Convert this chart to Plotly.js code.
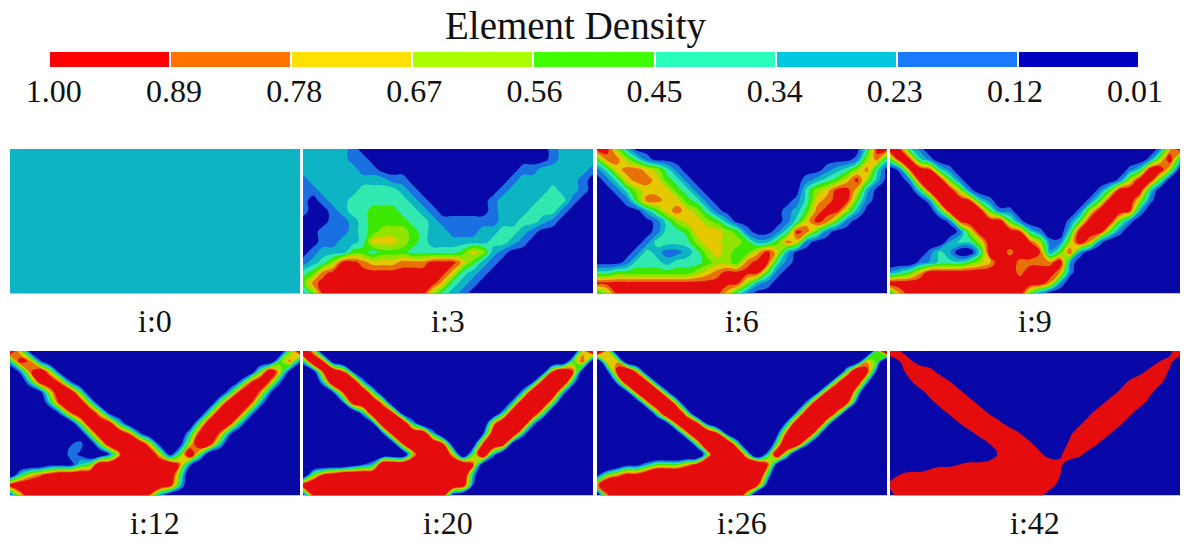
<!DOCTYPE html>
<html><head><meta charset="utf-8">
<script src="https://cdn.plot.ly/plotly-3.0.1.min.js"></script>
<style>html,body{margin:0;padding:0;background:#fff}</style></head>
<body><div id="chart" style="width:1186px;height:544px"></div>
<script>
// Sampled element density on a coarse mesh, on a 0..8 band scale (0 = lowest density, 8 = highest).
const barLabels=["1.00","0.89","0.78","0.67","0.56","0.45","0.34","0.23","0.12","0.01"];
const barBands=[[8,7,6,5,4,3,2,1,0]];
const panelNames=["i:0","i:3","i:6","i:9","i:12","i:20","i:26","i:42"];
const i0=[[2,2],[2,2]];
const i3=[
[2,2,2,2,2,1,0,0,0,0,0,0,0,0,0,0,0,0,0,0,0,0,0,0,0,1,2,2,2,2],
[2,2,2,2,2,1,1,0,0,0,0,0,0,0,0,0,0,0,0,0,0,0,0,0,0,1,2,2,2,2],
[2,2,2,2,2,2,1,1,0,0,0,0,0,0,0,0,0,0,0,0,0,0,1,1,2,2,2,2,2,1],
[1,2,2,2,2,2,2,2,2,1,1,0,0,0,0,0,0,0,0,0,0,1,2,2,2,2,2,2,1,0],
[1,1,2,2,2,2,3,3,3,3,2,1,0,0,0,0,0,0,0,0,1,2,2,2,2,3,2,2,1,0],
[1,0,1,2,2,3,3,3,3,3,3,2,1,0,0,0,0,0,0,1,2,2,2,2,3,3,3,1,0,0],
[1,0,0,1,2,3,3,4,4,4,3,3,2,1,0,0,0,0,0,1,2,2,2,3,3,3,1,0,0,0],
[0,0,0,1,1,2,3,4,4,4,4,3,3,2,1,1,1,1,1,1,2,2,3,3,2,1,0,0,0,0],
[0,0,1,1,1,2,3,4,5,5,5,4,3,2,2,1,1,1,2,2,3,3,2,1,0,0,0,0,0,0],
[0,0,1,1,2,2,3,6,6,6,5,4,3,2,2,2,2,2,2,3,3,2,1,0,0,0,0,0,0,0],
[0,1,2,2,2,4,4,3,4,4,4,3,3,3,3,3,4,6,5,2,1,0,0,0,0,0,0,0,0,0],
[1,2,3,5,8,8,7,6,6,6,7,7,7,8,8,8,6,4,2,1,0,0,0,0,0,0,0,0,0,0],
[3,4,7,8,8,8,8,8,8,8,8,8,8,8,8,6,3,2,1,0,0,0,0,0,0,0,0,0,0,0],
[4,7,8,8,8,8,8,8,8,8,8,8,8,8,6,3,2,1,0,0,0,0,0,0,0,0,0,0,0,0],
[2,4,8,8,8,8,8,8,8,8,8,8,8,5,3,2,1,0,0,0,0,0,0,0,0,0,0,0,0,0]];
const i6=[
[8,8,5,2,0,0,0,0,0,0,0,0,0,0,0,0,0,0,0,0,0,0,0,0,0,0,0,3,8,8],
[4,7,7,5,3,1,0,0,0,0,0,0,0,0,0,0,0,0,0,0,0,0,0,0,0,0,1,5,7,3],
[1,3,6,7,7,6,5,3,1,0,0,0,0,0,0,0,0,0,0,0,0,0,0,1,2,3,5,7,3,0],
[0,1,3,6,7,7,6,4,3,1,0,0,0,0,0,0,0,0,0,0,0,1,2,3,4,6,8,5,2,0],
[0,0,1,3,5,6,6,6,4,3,1,0,0,0,0,0,0,0,0,0,0,3,5,6,8,8,6,2,0,0],
[0,0,0,1,4,7,7,6,6,4,3,1,0,0,0,0,0,0,0,0,1,3,6,7,8,8,4,1,0,0],
[0,0,0,0,0,2,4,6,7,6,5,3,1,0,0,0,0,0,0,1,2,4,7,8,8,5,2,0,0,0],
[0,0,0,0,0,0,1,3,5,6,6,5,4,2,0,0,0,0,0,1,3,6,8,7,4,1,0,0,0,0],
[0,0,0,0,0,0,1,3,3,4,6,6,6,5,4,1,0,0,1,3,8,7,4,1,0,0,0,0,0,0],
[0,0,0,0,0,1,3,3,3,3,5,6,6,5,5,4,2,2,4,7,6,1,0,0,0,0,0,0,0,0],
[0,0,0,0,1,3,2,1,1,2,3,5,6,5,4,4,6,8,6,2,0,0,0,0,0,0,0,0,0,0],
[0,0,0,1,3,3,3,2,3,3,3,4,5,5,4,7,8,8,3,1,0,0,0,0,0,0,0,0,0,0],
[3,3,4,4,4,4,4,4,4,4,5,6,7,8,8,8,8,4,1,0,0,0,0,0,0,0,0,0,0,0],
[8,8,8,8,8,8,8,8,8,8,8,8,8,8,8,5,2,1,0,0,0,0,0,0,0,0,0,0,0,0],
[3,5,8,8,8,8,8,8,8,8,8,8,8,6,3,1,0,0,0,0,0,0,0,0,0,0,0,0,0,0]];
const i9=[
[8,7,3,1.5,0,0,0,0,0,0,0,0,0,0,0,0,0,0,0,0,0,0,0,0,0,0,0,1.5,6,8],
[4,8,7,3,1.5,0,0,0,0,0,0,0,0,0,0,0,0,0,0,0,0,0,0,0,0,0,1.5,5,8,3],
[0,1.5,7,8,7,3,1.5,0,0,0,0,0,0,0,0,0,0,0,0,0,0,0,0,0,1.5,3,8,8,5,0],
[0,0,2,8,8,8,4,1.5,0,0,0,0,0,0,0,0,0,0,0,0,0,0,0,1.5,5,8,8,4,0,0],
[0,0,0,3,8,8,8,5,1.5,0,0,0,0,0,0,0,0,0,0,0,0,1.5,4,8,8,8,3,0,0,0],
[0,0,0,0,2,8,8,8,7,3,1.5,0,0,0,0,0,0,0,0,0,1.5,4,8,8,8,5,1.5,0,0,0],
[0,0,0,0,0,3,8,8,8,8,4,1.5,1.5,0,0,0,0,0,0,1.5,5,8,8,8,7,2,0,0,0,0],
[0,0,0,0,0,0,1.5,7,8,8,8,8,4,1.5,0,0,0,0,1.5,4,8,8,8,4,1.5,0,0,0,0,0],
[0,0,0,0,0,0,0,1.5,5,8,8,8,8,7,3,1.5,0,0,3,8,8,8,4,1.5,0,0,0,0,0,0],
[0,0,0,0,0,0,2,3,3,5,8,8,8,8,7,5,1.5,1.5,5,8,6,1.5,0,0,0,0,0,0,0,0],
[0,0,0,0,1.5,3,2,0,0,3,8,8,6.5,8,8,7,2,4,7,2,0,0,0,0,0,0,0,0,0,0],
[0,0,0,1.5,2,3,3,3,4,5,6,8,8,6.5,6.5,6.5,6.5,8,2,0,0,0,0,0,0,0,0,0,0,0],
[2,3,4,6,8,8,8,8,8,8,8,8,8,6.5,8,8,8,6,1.5,0,0,0,0,0,0,0,0,0,0,0],
[8,8,8,8,8,8,8,8,8,8,8,8,8,8,8,8,6,2,0,0,0,0,0,0,0,0,0,0,0,0],
[3,6,8,8,8,8,8,8,8,8,8,8,8,8,4,1.5,0,0,0,0,0,0,0,0,0,0,0,0,0,0]];
const i12=[
[8,5,1,0,0,0,0,0,0,0,0,0,0,0,0,0,0,0,0,0,0,0,0,0,0,0,0,0,4,8],
[3,7,6,2,0,0,0,0,0,0,0,0,0,0,0,0,0,0,0,0,0,0,0,0,0,0,0,4,6,2],
[0,2,6,8,5,1,0,0,0,0,0,0,0,0,0,0,0,0,0,0,0,0,0,0,0,4,8,5,1,0],
[0,0,3,7,8,6,2,0,0,0,0,0,0,0,0,0,0,0,0,0,0,0,0,2,6,8,6,2,0,0],
[0,0,0,1,5,8,8,4,0,0,0,0,0,0,0,0,0,0,0,0,0,0,3,7,8,6,2,0,0,0],
[0,0,0,0,3,7,8,8,4,0,0,0,0,0,0,0,0,0,0,0,0,4,8,8,7,3,0,0,0,0],
[0,0,0,0,0,2,6,8,8,5,1,0,0,0,0,0,0,0,0,0,4,8,8,7,3,0,0,0,0,0],
[0,0,0,0,0,0,0,4,8,8,7,3,0,0,0,0,0,0,0,4,8,8,7,3,0,0,0,0,0,0],
[0,0,0,0,0,0,0,0,4,8,8,8,6,2,0,0,0,0,3,7,8,6,2,0,0,0,0,0,0,0],
[0,0,0,0,0,0,1.5,2.3,0,4,8,8,8,8,5,1,0,1,5,8,7,3,0,0,0,0,0,0,0,0],
[0,0,0,0,0,0,2.3,1.5,0,0,2,6,8,8,8,5,1,4,8,4,0,0,0,0,0,0,0,0,0,0],
[0,0,0,0,1,1,1,3,4,8,8,8,8,8,8,8,8,6,2,0,0,0,0,0,0,0,0,0,0,0],
[0,3,5,6,7,8,8,8,8,8,8,8,8,8,8,8,8,4,0,0,0,0,0,0,0,0,0,0,0,0],
[7,8,8,8,8,8,8,8,8,8,8,8,8,8,8,8,7,3,0,0,0,0,0,0,0,0,0,0,0,0],
[1,5,8,8,8,8,8,8,8,8,8,8,8,8,6,2,0,0,0,0,0,0,0,0,0,0,0,0,0,0]];
const i20=[
[8,5,0,0,0,0,0,0,0,0,0,0,0,0,0,0,0,0,0,0,0,0,0,0,0,0,0,0,5,8],
[3,8,6,1,0,0,0,0,0,0,0,0,0,0,0,0,0,0,0,0,0,0,0,0,0,0,0,4,6,1],
[0,1,6,8,6,2,0,0,0,0,0,0,0,0,0,0,0,0,0,0,0,0,0,0,1,6,8,6,1,0],
[0,0,3,8,8,8,3,0,0,0,0,0,0,0,0,0,0,0,0,0,0,0,0,2,7,8,8,3,0,0],
[0,0,0,2,6,8,8,4,0,0,0,0,0,0,0,0,0,0,0,0,0,0,3,8,8,8,3,0,0,0],
[0,0,0,0,2,7,8,8,5,0,0,0,0,0,0,0,0,0,0,0,0,3,8,8,8,4,0,0,0,0],
[0,0,0,0,0,0,3,8,8,6,1,0,0,0,0,0,0,0,0,0,3,8,8,8,4,0,0,0,0,0],
[0,0,0,0,0,0,0,2,8,8,8,3,0,0,0,0,0,0,0,5,8,8,8,3,0,0,0,0,0,0],
[0,0,0,0,0,0,0,0,2,7,8,8,8,3,0,0,0,0,2,7,8,8,3,0,0,0,0,0,0,0],
[0,0,0,0,0,0,0,0,0,1,6,8,8,8,6,1,0,1,6,8,7,1,0,0,0,0,0,0,0,0],
[0,0,0,0,0,0,0,0,0,0,0,5,8,8,8,5,0,4,8,3,0,0,0,0,0,0,0,0,0,0],
[0,0,0,0,0,1,2,3,8,8,8,8,8,8,8,8,8,6,1,0,0,0,0,0,0,0,0,0,0,0],
[0,4,6,7,8,8,8,8,8,8,8,8,8,8,8,8,8,3,0,0,0,0,0,0,0,0,0,0,0,0],
[7,8,8,8,8,8,8,8,8,8,8,8,8,8,8,8,7,2,0,0,0,0,0,0,0,0,0,0,0,0],
[1,6,8,8,8,8,8,8,8,8,8,8,8,8,7,1,0,0,0,0,0,0,0,0,0,0,0,0,0,0]];
const i26=[
[8,5,1,0,0,0,0,0,0,0,0,0,0,0,0,0,0,0,0,0,0,0,0,0,0,0,0,0,4,8],
[1,5,5,1,0,0,0,0,0,0,0,0,0,0,0,0,0,0,0,0,0,0,0,0,0,0,1,5,4,0],
[0,2,6,8,5,1,0,0,0,0,0,0,0,0,0,0,0,0,0,0,0,0,0,0,0,4,8,6,2,0],
[0,0,3,7,8,6,2,0,0,0,0,0,0,0,0,0,0,0,0,0,0,0,0,1,5,8,7,3,0,0],
[0,0,0,2,6,8,7,3,0,0,0,0,0,0,0,0,0,0,0,0,0,0,2,6,8,8,4,0,0,0],
[0,0,0,0,1,5,8,8,4,0,0,0,0,0,0,0,0,0,0,0,0,3,7,8,8,6,2,0,0,0],
[0,0,0,0,0,0,4,8,8,4,0,0,0,0,0,0,0,0,0,0,3,7,8,8,5,1,0,0,0,0],
[0,0,0,0,0,0,0,2,6,8,6,2,0,0,0,0,0,0,0,3,7,8,8,4,0,0,0,0,0,0],
[0,0,0,0,0,0,0,0,1,5,8,8,6,2,0,0,0,0,2,6,8,8,4,0,0,0,0,0,0,0],
[0,0,0,0,0,0,0,0,0,0,4,8,8,8,4,0,0,0,4,8,7,3,0,0,0,0,0,0,0,0],
[0,0,0,0,0,0,0,0,0,0,0,4,8,8,8,4,0,3,7,4,0,0,0,0,0,0,0,0,0,0],
[0,0,1,2,2,3,4,4,4,5,6,8,8,8,8,8,8,6,2,0,0,0,0,0,0,0,0,0,0,0],
[2,4,5,6,6,7,8,8,8,8,8,8,8,8,8,8,8,4,0,0,0,0,0,0,0,0,0,0,0,0],
[5,8,8,8,8,8,8,8,8,8,8,8,8,8,8,8,6,2,0,0,0,0,0,0,0,0,0,0,0,0],
[1,5,8,8,8,8,8,8,8,8,8,8,8,8,8,4,0,0,0,0,0,0,0,0,0,0,0,0,0,0]];
const i42=[
[8,4,0,0,0,0,0,0,0,0,0,0,0,0,0,0,0,0,0,0,0,0,0,0,0,0,0,0,3,7],
[0,4,5,1,0,0,0,0,0,0,0,0,0,0,0,0,0,0,0,0,0,0,0,0,0,0,0,4,5,1],
[0,2,6,8,6,2,0,0,0,0,0,0,0,0,0,0,0,0,0,0,0,0,0,0,0,2,6,7,3,0],
[0,0,3,7,8,8,4,0,0,0,0,0,0,0,0,0,0,0,0,0,0,0,0,1,5,8,8,5,1,0],
[0,0,0,2,6,8,8,5,1,0,0,0,0,0,0,0,0,0,0,0,0,0,1,5,8,8,5,1,0,0],
[0,0,0,0,2,6,8,8,6,2,0,0,0,0,0,0,0,0,0,0,0,2,6,8,8,6,2,0,0,0],
[0,0,0,0,0,1,5,8,8,7,3,0,0,0,0,0,0,0,0,0,3,7,8,8,5,1,0,0,0,0],
[0,0,0,0,0,0,0,4,8,8,8,5,1,0,0,0,0,0,0,3,7,8,8,5,1,0,0,0,0,0],
[0,0,0,0,0,0,0,0,2,6,8,8,8,4,0,0,0,0,3,7,8,8,4,0,0,0,0,0,0,0],
[0,0,0,0,0,0,0,0,0,0,4,8,8,8,5,1,0,1,5,8,7,3,0,0,0,0,0,0,0,0],
[0,0,0,0,0,0,0,0,0,0,1,5,8,8,8,5,1,3,7,5,1,0,0,0,0,0,0,0,0,0],
[0,0,1,1,2,3,3,4,5,5,6,8,8,8,8,8,8,5,1,0,0,0,0,0,0,0,0,0,0,0],
[2,4,5,5,6,7,7,8,8,8,8,8,8,8,8,8,8,4,0,0,0,0,0,0,0,0,0,0,0,0],
[5,8,8,8,8,8,8,8,8,8,8,8,8,8,8,8,6,2,0,0,0,0,0,0,0,0,0,0,0,0],
[2,6,8,8,8,8,8,8,8,8,8,8,8,8,8,5,1,0,0,0,0,0,0,0,0,0,0,0,0,0]];
const panels=[i0,i3,i6,i9,i12,i20,i26,i42];
// spacing of the nine colour bands around the middle of the 0..8 scale, panel by panel
const bandSteps=[1,1,1,0.85,0.65,0.55,0.45,0];

const W=1186,H=544;
const panelColors=["#0808a8","#1a70e0","#0cb4c4","#30e8b0","#3ce800","#90e400","#e4c800","#e87008","#e40c0c"];
const barColors=["#0000c0","#1a7aff","#00c8e0","#2affbb","#40ff00","#aaff00","#ffe000","#ff7300","#ff0000"];
const stops=cols=>cols.map((c,k)=>[k/(cols.length-1),c]);
const colLeft=[10,303,597,890], colWidth=290;
const rowTop=[149,351], rowHeight=144.5;
const serif="'Liberation Serif',serif";

const layout={width:W,height:H,margin:{l:0,r:0,t:0,b:0},paper_bgcolor:"#fff",plot_bgcolor:"#fff",showlegend:false,annotations:[
  {text:"Element Density",xref:"paper",yref:"paper",x:576/W,y:1-25.5/H,xanchor:"center",yanchor:"middle",showarrow:false,font:{family:serif,size:39,color:"#111"}}
]};
const traces=[];
panels.forEach((z,i)=>{
  const n=i+1, sx=n===1?"":String(n);
  const cx=colLeft[i%4], ty=rowTop[i<4?0:1];
  layout["xaxis"+sx]={domain:[cx/W,(cx+colWidth)/W],range:[0,29],visible:false,fixedrange:true};
  layout["yaxis"+sx]={domain:[1-(ty+rowHeight)/H,1-ty/H],range:[14,0],visible:false,fixedrange:true};
  const axes={xaxis:"x"+sx,yaxis:"y"+sx,showscale:false,hoverinfo:"skip"};
  if(i===0){
    traces.push({type:"heatmap",z,x:[0,29],y:[0,14],zmin:0,zmax:8,colorscale:stops(panelColors),...axes});
  }else if(i===7){
    traces.push({type:"contour",z,autocontour:false,contours:{start:3.9,end:3.9,size:1,coloring:"fill",showlines:false},
      line:{width:0,smoothing:1.3},colorscale:[[0,panelColors[0]],[1,panelColors[8]]],...axes});
  }else{
    const s=bandSteps[i];
    traces.push({type:"contour",z,autocontour:false,contours:{start:4-3.5*s,end:4+3.5*s,size:s,coloring:"fill",showlines:false},
      line:{width:0,smoothing:1.3},colorscale:stops(panelColors),...axes});
  }
  layout.annotations.push({text:panelNames[i],xref:"paper",yref:"paper",x:(cx+colWidth/2)/W,y:1-(ty+rowHeight+27)/H,
    xanchor:"center",yanchor:"middle",showarrow:false,font:{family:serif,size:32,color:"#111"}});
});
// colour bar
layout.xaxis9={domain:[49/W,1139/W],range:[-0.5,8.5],fixedrange:true,showgrid:false,zeroline:false,showline:false,
  tickmode:"array",tickvals:barLabels.map((_,k)=>-0.46+k*0.992),ticktext:barLabels,ticks:"",ticklen:0,ticklabelstandoff:2,
  tickfont:{family:serif,size:32,color:"#111"},anchor:"y9",side:"bottom"};
layout.yaxis9={domain:[1-67/H,1-52/H],visible:false,fixedrange:true,anchor:"x9"};
traces.push({type:"heatmap",z:barBands,zmin:0,zmax:8,colorscale:stops(barColors),xgap:2,showscale:false,hoverinfo:"skip",xaxis:"x9",yaxis:"y9"});
Plotly.newPlot("chart",traces,layout,{displayModeBar:false,staticPlot:true});
</script></body></html>
